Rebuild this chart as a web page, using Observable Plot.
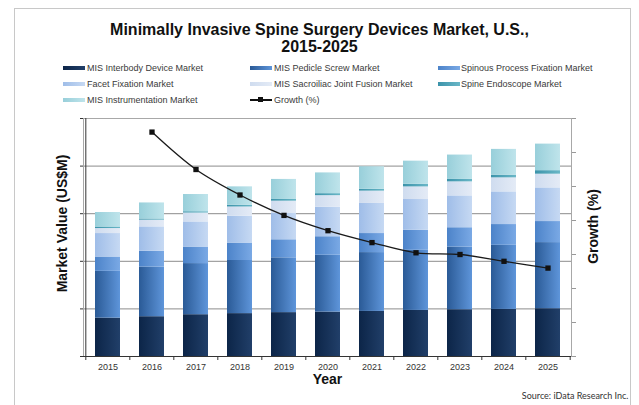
<!DOCTYPE html>
<html><head><meta charset="utf-8">
<script src="https://cdn.jsdelivr.net/npm/d3@7"></script>
<script src="https://cdn.jsdelivr.net/npm/@observablehq/plot@0.6"></script>
<style>
body{margin:0;background:#fff;}
#wrap{position:relative;width:639px;height:405px;overflow:hidden;font-family:"Liberation Sans",Arial,sans-serif;}
#border{position:absolute;left:14px;top:8px;width:617px;height:420px;border:1px solid #c8c8c8;box-sizing:border-box;}
#title{position:absolute;left:0;top:21px;width:639px;text-align:center;font-weight:bold;font-size:16px;line-height:17px;color:#111;}
.lg{position:absolute;font-size:9px;color:#3a3a3a;white-space:nowrap;line-height:10px;}
.sw{position:absolute;width:22px;height:4px;}
#chart{position:absolute;left:0;top:110px;}
</style></head>
<body><div id="wrap"><div id="border"></div>
<div id="title">Minimally Invasive Spine Surgery Devices Market, U.S.,<br>2015-2025</div>
<div id="legend"></div><div id="chart"></div></div>
<script>
// ---- data ----
const years = ["2015","2016","2017","2018","2019","2020","2021","2022","2023","2024","2025"];
const seriesNames = ["MIS Interbody Device Market","MIS Pedicle Screw Market","Spinous Process Fixation Market","Facet Fixation Market","MIS Sacroiliac Joint Fusion Market","Spine Endoscope Market","MIS Instrumentation Market"];
const interbody = [80.6, 83.6, 87.8, 90.1, 92.2, 93.3, 94.7, 96.8, 98.3, 98.9, 100.4];
const pedicle   = [98.3, 104.2, 107.4, 111.6, 115.1, 119.4, 123.6, 126.3, 131.6, 134.7, 138.9];
const spinous   = [30.1, 33.3, 34.7, 36.6, 37.9, 38.9, 40.0, 42.1, 40.6, 43.6, 44.2];
const facet     = [49.3, 51.2, 52.8, 56.4, 55.2, 62.1, 63.2, 64.6, 66.9, 68.6, 70.7];
const sacroiliac= [10.5, 14.1, 18.7, 19.4, 25.9, 24.2, 25.9, 26.5, 29.5, 29.5, 28.8];
const endoscope = [3.2, 2.5, 2.7, 3.8, 3.6, 4.2, 3.8, 5.7, 5.1, 5.7, 7.4];
const instrument= [30.5, 33.7, 36.2, 38.5, 42.1, 43.6, 47.4, 48.4, 51.2, 54.1, 55.8];
const growthName = "Growth (%)";
const growthYears = ["2016","2017","2018","2019","2020","2021","2022","2023","2024","2025"];
const growth = [13.2, 11.0, 9.5, 8.3, 7.4, 6.7, 6.1, 6.0, 5.6, 5.2];

// ---- styles ----
const seriesColors = [["#0c2548","#213f69"],["#2a5a96","#5e95da"],["#4c83c9","#7aa9e5"],["#9fbde8","#c6d9f3"],["#cfdcef","#e4ebf6"],["#3b93aa","#6ab7c7"],["#98cfda","#bfe4eb"]];
const seriesValues = [interbody, pedicle, spinous, facet, sacroiliac, endoscope, instrument];

const rows = [];
seriesValues.forEach((vals, s) => years.forEach((yr, i) => rows.push({year: yr, series: seriesNames[s], value: vals[i]})));
const growthRows = growthYears.map((yr, i) => ({year: yr, g: growth[i]}));

const W = 639, H = 295, mL = 83, mR = 68, mT = 8, mB = 49;
const step = (W - mL - mR) / years.length;
const frameH = H - mT - mB;
const yMax = 500, gMax = 14, k = yMax / gMax;

// legend
const legend = document.getElementById("legend");
const colX = [[63, 87], [250, 274], [438, 461]];
const rowY = [68, 84, 100];
const legendItems = seriesNames.concat([growthName]);
legendItems.forEach((name, i) => {
  const c = i % 3, r = Math.floor(i / 3);
  const sw = document.createElement("div");
  sw.className = "sw";
  sw.style.left = colX[c][0] + "px";
  if (i < seriesNames.length) {
    sw.style.top = (rowY[r] - 2) + "px";
    sw.style.background = `linear-gradient(to right, ${seriesColors[i][0]}, ${seriesColors[i][1]})`;
  } else {
    sw.style.top = (rowY[r] - 1) + "px";
    sw.style.height = "1.5px";
    sw.style.background = "#111";
    const m = document.createElement("div");
    m.style.cssText = `position:absolute;left:${colX[c][0] + 8}px;top:${rowY[r] - 3}px;width:5px;height:5px;background:#111;`;
    legend.appendChild(m);
  }
  legend.appendChild(sw);
  const t = document.createElement("div");
  t.className = "lg";
  t.style.left = colX[c][1] + "px";
  t.style.top = (rowY[r] - 5) + "px";
  t.textContent = name;
  legend.appendChild(t);
});

const defsMark = () => {
  const defs = d3.create("svg:defs");
  seriesColors.forEach(([a, b], i) => {
    const g = defs.append("linearGradient").attr("id", `grad${i}`).attr("x1", "0").attr("x2", "1").attr("y1", "0").attr("y2", "0");
    g.append("stop").attr("offset", "0%").attr("stop-color", a);
    g.append("stop").attr("offset", "100%").attr("stop-color", b);
  });
  return defs.node();
};

const chart = Plot.plot({
  width: W, height: H, marginLeft: mL, marginRight: mR, marginTop: mT, marginBottom: mB,
  style: {fontFamily: "Liberation Sans, Arial, sans-serif", fontSize: "9px", background: "transparent"},
  x: {type: "band", domain: years, paddingInner: 0.44, paddingOuter: 0.22, label: null},
  y: {domain: [0, yMax], label: null},
  color: {domain: seriesNames, range: seriesNames.map((_, i) => `url(#grad${i})`)},
  marks: [
    defsMark,
    Plot.ruleY(d3.range(100, yMax + 1, 100), {stroke: "#8c8c8c", strokeWidth: 1}),
    Plot.frame({stroke: "#a8a8a8"}),
    Plot.barY(rows, Plot.stackY({x: "year", y: "value", fill: "series", order: seriesNames})),
    Plot.ruleY([0], {stroke: "#333"}),
    Plot.ruleX([years[0]], {x: d => d, dx: -step / 2, stroke: "#333"}),
    Plot.ruleX(years, {x: d => d, dx: -step / 2, insetTop: frameH, insetBottom: -4, stroke: "#333"}),
    Plot.ruleX([years[years.length - 1]], {x: d => d, dx: step / 2, insetTop: frameH, insetBottom: -4, stroke: "#333"}),
    Plot.axisY(d3.range(0, yMax + 1, 100), {anchor: "left", tickSize: 3, tickFormat: () => "", stroke: "#333", label: null}),
    Plot.axisY(d3.range(0, gMax + 1, 2).map(g => g * k), {anchor: "right", tickSize: 4, tickFormat: () => "", stroke: "#999", label: null}),
    Plot.axisX({tickSize: 0, tickPadding: 7, fontSize: 9, fill: "#333", label: null}),
    Plot.line(growthRows, {x: "year", y: d => d.g * k, curve: "catmull-rom", stroke: "#1a1a1a", strokeWidth: 1.3}),
    Plot.dot(growthRows, {x: "year", y: d => d.g * k, symbol: "square", r: 3, fill: "#111", stroke: "none"}),
    Plot.text(["Market Value (US$M)"], {frameAnchor: "left", textAnchor: "middle", dx: -21, dy: -14, rotate: -90, fontSize: 14, fontWeight: "bold", fill: "#111"}),
    Plot.text([growthName], {frameAnchor: "right", textAnchor: "middle", dx: 22, dy: -11, rotate: -90, fontSize: 14, fontWeight: "bold", fill: "#111"}),
    Plot.text(["Year"], {frameAnchor: "bottom", dy: 27, fontSize: 14, fontWeight: "bold", fill: "#111"}),
    Plot.text(["Source: iData Research Inc."], {frameAnchor: "bottom-right", dx: 57, dy: 42, textAnchor: "end", fontSize: 9, fontFamily: "Lato", fill: "#333"})
  ]
});
document.getElementById("chart").appendChild(chart);
</script>
</body></html>
